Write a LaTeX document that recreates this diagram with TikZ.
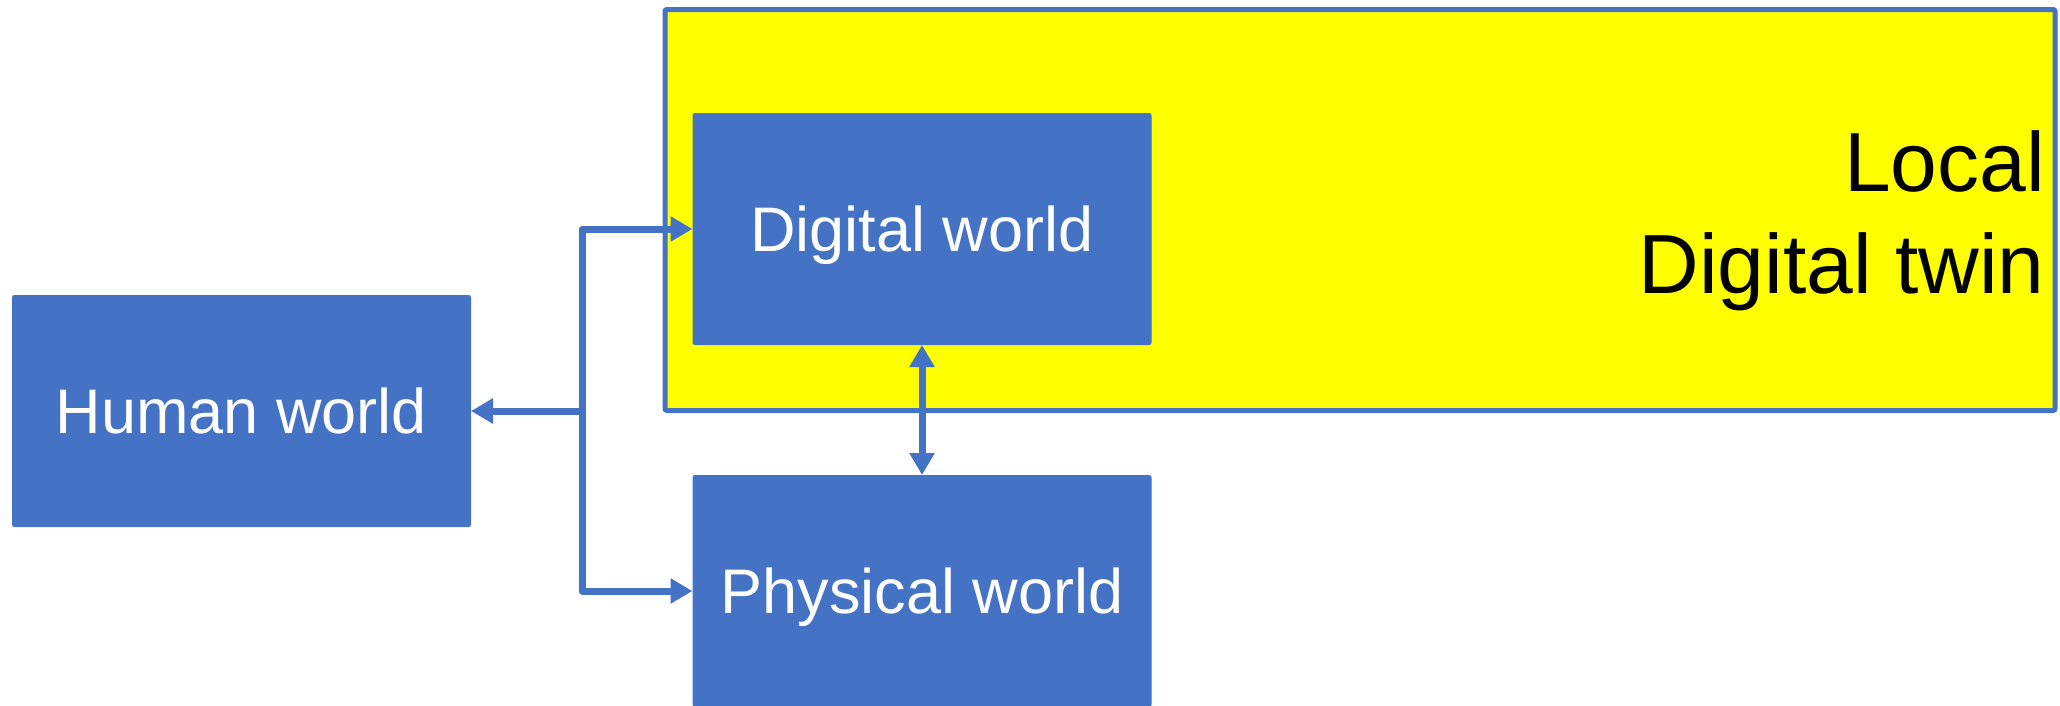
\documentclass[tikz,border=0pt]{standalone}
\usepackage{fontspec}
\setmainfont{Liberation Sans}
\usetikzlibrary{arrows.meta}
\definecolor{obl}{HTML}{4472C4}
\definecolor{yel}{HTML}{FFFF00}
\begin{document}
\begin{tikzpicture}[x=1pt,y=-1pt,
  wbox/.style={fill=obl,draw=obl,line width=1pt,rounded corners=2pt,text=white,
    minimum width=458pt,minimum height=231pt,inner sep=0pt,
    text height=45pt,text depth=0pt,
    font=\fontsize{63}{75}\selectfont},
  conn/.style={draw=obl,line width=7pt,line join=round,
    >={Triangle[length=22pt,width=24pt]}}]
\useasboundingbox (0,0) rectangle (2060,705);
\node[draw=obl,fill=yel,line width=5pt,rounded corners=2pt,minimum width=1390pt,
  minimum height=401pt,inner sep=0pt] (twin) at (1360,210) {};
\node[anchor=base east,align=right,font=\fontsize{84}{102}\selectfont,inner sep=0pt]
  (twinlbl) at (2045,293) {Local\\Digital twin};
\node[wbox] (hum) at (241.5,411) {Human world};
\node[wbox] (dig) at (922,229) {Digital world};
\node[wbox] (phy) at (922,591) {Physical world};
\coordinate (bus) at (582,411);
\draw[conn,<->] (dig.west) -| (bus) |- (phy.west);
\draw[conn,->] (bus) -- (hum.east);
\draw[conn,<->] (dig.south) -- (phy.north);
\end{tikzpicture}
\end{document}
